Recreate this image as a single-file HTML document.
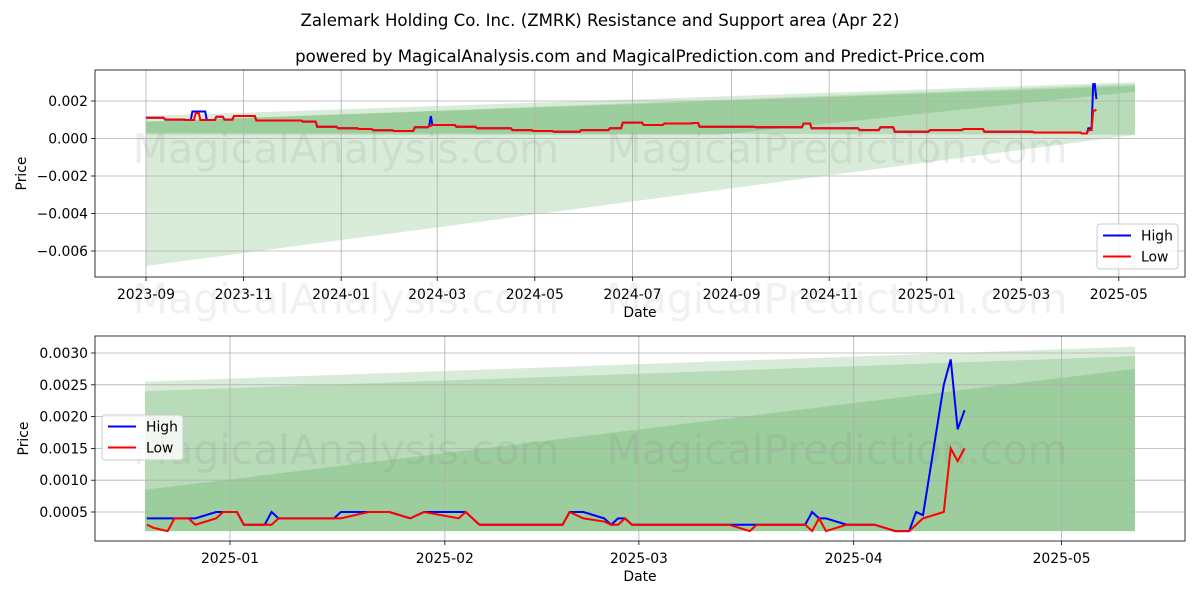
<!DOCTYPE html>
<html><head><meta charset="utf-8"><style>
body{margin:0;background:#fff}
svg{font-family:"DejaVu Sans","Liberation Sans",sans-serif}
</style></head><body>
<svg id="c" width="1200" height="600" xmlns="http://www.w3.org/2000/svg">
<text x="600" y="26" font-size="16.6" text-anchor="middle">Zalemark Holding Co. Inc. (ZMRK) Resistance and Support area (Apr 22)</text>
<text x="640" y="62" font-size="16.6" text-anchor="middle">powered by MagicalAnalysis.com and MagicalPrediction.com and Predict-Price.com</text>
</svg>
<script>
// ---- top chart data (days since 2023-09-01, values in 1e-4) ----
const topDays=[0,12,25,29,31,34,38,44,49,55,68,69,81,98,107,120,133,142,155,168,177,178,179,181,194,207,229,242,255,272,290,298,311,324,342,346,381,411,416,446,459,468,490,511,524,555,576,585,589,592,594];
const topHigh=[11.1,10.1,9.9,14.4,14.4,14.4,9.9,11.6,10.1,12.0,12.0,9.6,9.6,9.0,6.3,5.5,5.1,4.4,4.0,6.0,6.7,12,7.2,7.2,6.3,5.5,4.5,4.0,3.6,4.5,5.5,8.5,7.2,8.0,8.3,6.3,6.0,8.0,5.5,4.5,6.0,3.6,4.5,5.1,3.6,3.2,3.2,2.7,5.5,29,21];
const topLow=[11.1,10.1,9.9,9.9,13.5,9.9,9.9,11.6,10.1,12.0,12.0,9.6,9.6,9.0,6.3,5.5,5.1,4.4,4.0,6.0,6.7,6.7,7.2,7.2,6.3,5.5,4.5,4.0,3.6,4.5,5.5,8.5,7.2,8.0,8.3,6.3,6.0,8.0,5.5,4.5,6.0,3.6,4.5,5.1,3.6,3.2,3.2,2.7,4.5,14.9,15.3];
const topTickDays=[0,61,122,182,243,304,366,427,488,547,608];
const topTickLabels=["2023-09","2023-11","2024-01","2024-03","2024-05","2024-07","2024-09","2024-11","2025-01","2025-03","2025-05"];
const topYTicks=[0.002,0,-0.002,-0.004,-0.006];
const topYLabels=["0.002","0.000","−0.002","−0.004","−0.006"];
// bands: list of [fraction-along-x, value] polygon vertices
const topBands=[
 [[0,0.0012],[1,0.0030],[1,0.0002],[0,-0.0068]],
 [[0,0.0009],[1,0.0029],[1,0.0002],[0,0.0003]],
 [[0,0.0009],[1,0.0028],[1,0.0025],[0.58,0.0002],[0,0.0002]]
];
// ---- bottom chart data (days since 2025-01-01, values in 1e-4) ----
const botDays=[-12,-11,-9,-8,-6,-5,-2,-1,1,2,5,6,7,15,16,20,23,26,28,33,34,36,48,49,51,54,55,56,57,58,72,75,76,83,84,85,86,89,93,96,98,99,100,103,104,105,106];
const botHigh=[4,4,4,4,4,4,5,5,5,3,3,5,4,4,5,5,5,4,5,5,5,3,3,5,5,4,3,4,4,3,3,3,3,3,5,4,4,3,3,2,2,5,4.5,25,29,18,21];
const botLow=[3,2.5,2,4,4,3,4,5,5,3,3,3,4,4,4,5,5,4,5,4,5,3,3,5,4,3.5,3,3,4,3,3,2,3,3,2,4,2,3,3,2,2,3,4,5,15,13,15];
const botTickDays=[0,31,59,90,120];
const botTickLabels=["2025-01","2025-02","2025-03","2025-04","2025-05"];
const botYTicks=[0.0005,0.0010,0.0015,0.0020,0.0025,0.0030];
const botYLabels=["0.0005","0.0010","0.0015","0.0020","0.0025","0.0030"];
const botBands=[
 [[0,0.00255],[1,0.0031],[1,0.0002],[0,0.0002]],
 [[0,0.0024],[1,0.00295],[1,0.0002],[0,0.0002]],
 [[0,0.00085],[1,0.00275],[1,0.0002],[0,0.0002]]
];

const svg=document.getElementById('c');const NS="http://www.w3.org/2000/svg";
function mk(t,a,p){const e=document.createElementNS(NS,t);for(const k in a)e.setAttribute(k,a[k]);(p||svg).appendChild(e);return e;}

function panel(cfg){
  const {L,R,T,B,xOf,yOf,days,hi,lo,tickDays,tickLabels,yT,yL,bands,bx0,bx1,name,legend,wmY,step}=cfg;
  const g=mk('g',{});
  
  
  bands.forEach(b=>{
    const p=mk('polygon',{points:b.map(q=>(bx0+q[0]*(bx1-bx0))+','+yOf(q[1])).join(' '),fill:'#008000','fill-opacity':0.15},g);
    
    
  });
  tickDays.forEach((d,i)=>{
    const x=xOf(d);
    mk('line',{x1:x,x2:x,y1:T,y2:B,stroke:'#b0b0b0','stroke-width':0.8},g);
    mk('line',{x1:x,x2:x,y1:B,y2:B+4,stroke:'#000','stroke-width':0.8},g);
    const t=mk('text',{x:x,y:B+22,'font-size':13.9,'text-anchor':'middle'},g);t.textContent=tickLabels[i];
    
    
  });
  yT.forEach((v,i)=>{
    const y=yOf(v);
    mk('line',{x1:L,x2:R,y1:y,y2:y,stroke:'#b0b0b0','stroke-width':0.8},g);
    mk('line',{x1:L-4,x2:L,y1:y,y2:y,stroke:'#000','stroke-width':0.8},g);
    const t=mk('text',{x:L-7,y:y+5,'font-size':13.9,'text-anchor':'end'},g);t.textContent=yL[i];
    
    
  });
  [['MagicalAnalysis.com',346],['MagicalPrediction.com',837]].forEach(w=>{
    const t=mk('text',{x:w[1],y:wmY,'font-size':41,fill:'#777','fill-opacity':0.12,'text-anchor':'middle'},g);t.textContent=w[0];
    
    
  });
  const pts=a=>{
    const out=[];
    days.forEach((d,i)=>{
      out.push(xOf(d)+','+yOf(a[i]*1e-4));
      if(step&&i<days.length-1&&days[i+1]-1>d) out.push(xOf(days[i+1]-1)+','+yOf(a[i]*1e-4));
    });
    return out.join(' ');
  };
  const h=mk('polyline',{points:pts(hi),fill:'none',stroke:'#0000ff','stroke-width':2},g);
  
  
  const l=mk('polyline',{points:pts(lo),fill:'none',stroke:'#ff0000','stroke-width':2},g);
  
  
  mk('rect',{x:L,y:T,width:R-L,height:B-T,fill:'none',stroke:'#000','stroke-width':0.8},g);
  const xl=mk('text',{x:(L+R)/2,y:B+40,'font-size':13.9,'text-anchor':'middle'},g);xl.textContent='Date';
  
  
  const yl=mk('text',{x:0,y:0,'font-size':13.9,'text-anchor':'middle',transform:`translate(${cfg.ylX},${(T+B)/2}) rotate(-90)`},g);yl.textContent='Price';
  
  
  const lg=mk('g',{},g);
  
  
  mk('rect',{x:legend[0],y:legend[1],width:legend[2],height:45,rx:3,fill:'#fff','fill-opacity':0.8,stroke:'#ccc'},lg);
  [['High','#0000ff'],['Low','#ff0000']].forEach((e,i)=>{
    const y=legend[1]+11.5+i*21;
    mk('line',{x1:legend[0]+6,x2:legend[0]+34,y1:y,y2:y,stroke:e[1],'stroke-width':2},lg);
    const t=mk('text',{x:legend[0]+44,y:y+5,'font-size':13.9},lg);t.textContent=e[0];
    
    
  });
}
panel({L:95,R:1185,T:70,B:277,xOf:d=>146+d*1.6,yOf:v=>138.5-v*18750,days:topDays,hi:topHigh,lo:topLow,
  tickDays:topTickDays,tickLabels:topTickLabels,yT:topYTicks,yL:topYLabels,bands:topBands,bx0:146,bx1:1135,
  name:'top-price-chart',legend:[1097,224,81],wmY:163,ylX:26,step:true});
panel({L:95,R:1185,T:336,B:541,xOf:d=>230+d*6.93,yOf:v=>512+(0.0005-v)*63600,days:botDays,hi:botHigh,lo:botLow,
  tickDays:botTickDays,tickLabels:botTickLabels,yT:botYTicks,yL:botYLabels,bands:botBands,bx0:145,bx1:1135,
  name:'bottom-price-chart',legend:[102,415,81],wmY:464,ylX:28,step:false});
[['MagicalAnalysis.com',346],['MagicalPrediction.com',837]].forEach(w=>{const t=mk('text',{x:w[1],y:313,'font-size':41,fill:'#777','fill-opacity':0.1,'text-anchor':'middle'});t.textContent=w[0];

});
</script>
</body></html>
